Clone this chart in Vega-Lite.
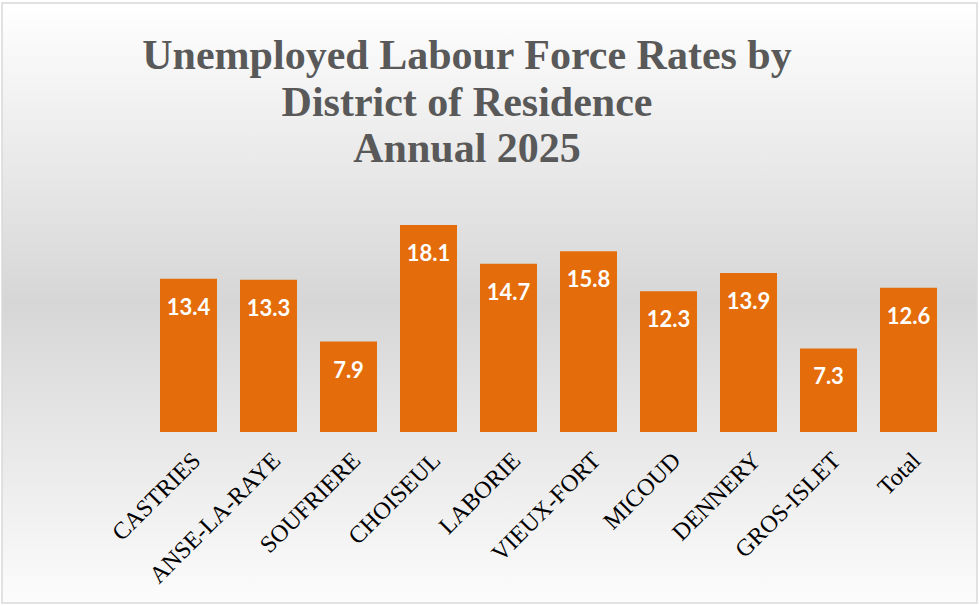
{
  "$schema": "https://vega.github.io/schema/vega-lite/v6.json",
  "width": 975,
  "height": 600,
  "padding": {"left": 2, "top": 3, "right": 2, "bottom": 3},
  "autosize": {"type": "none"},
  "background": "#ffffff",
  "title": {
    "text": ["Unemployed Labour Force Rates by", "District of Residence", "Annual 2025"],
    "anchor": "start",
    "align": "center",
    "baseline": "top",
    "dx": 465,
    "dy": 168,
    "offset": 0,
    "font": "Liberation Serif",
    "fontSize": 42,
    "fontWeight": "bold",
    "color": "#595959",
    "lineHeight": 46.5
  },
  "data": {
    "values": [
      {"district": "CASTRIES", "rate": 13.4},
      {"district": "ANSE-LA-RAYE", "rate": 13.3},
      {"district": "SOUFRIERE", "rate": 7.9},
      {"district": "CHOISEUL", "rate": 18.1},
      {"district": "LABORIE", "rate": 14.7},
      {"district": "VIEUX-FORT", "rate": 15.8},
      {"district": "MICOUD", "rate": 12.3},
      {"district": "DENNERY", "rate": 13.9},
      {"district": "GROS-ISLET", "rate": 7.3},
      {"district": "Total", "rate": 12.6}
    ]
  },
  "config": {
    "view": {
      "stroke": "#d9d9d9",
      "strokeWidth": 1.5,
      "fill": {
        "gradient": "linear",
        "x1": 0, "y1": 0, "x2": 0, "y2": 1,
        "stops": [
          {"offset": 0, "color": "#ffffff"},
          {"offset": 0.5, "color": "#d6d6d6"},
          {"offset": 1, "color": "#fcfcfc"}
        ]
      }
    }
  },
  "encoding": {
    "x": {
      "field": "district",
      "type": "nominal",
      "sort": null,
      "scale": {"paddingInner": 0.2875, "paddingOuter": 1, "range": [78, 1015]},
      "axis": {
        "title": null,
        "orient": "bottom",
        "offset": -171,
        "domain": false,
        "ticks": false,
        "labelAngle": -45,
        "labelAlign": "right",
        "labelBaseline": "top",
        "labelPadding": 16,
        "labelFont": "Liberation Serif",
        "labelFontSize": 24,
        "labelColor": "#000000",
        "labelOverlap": false
      }
    }
  },
  "layer": [
    {
      "mark": {"type": "bar", "color": "#e46c0a"},
      "encoding": {
        "y": {
          "field": "rate",
          "type": "quantitative",
          "scale": {"domain": [-14.95, 37.5], "nice": false, "zero": false},
          "axis": null
        },
        "y2": {"datum": 0}
      }
    },
    {
      "mark": {
        "type": "text",
        "color": "#ffffff",
        "font": "Lato",
        "fontWeight": "bold",
        "fontSize": 22,
        "baseline": "middle",
        "dy": 29
      },
      "encoding": {
        "y": {"field": "rate", "type": "quantitative"},
        "text": {"field": "rate", "type": "quantitative", "format": ".1f"}
      }
    }
  ]
}
